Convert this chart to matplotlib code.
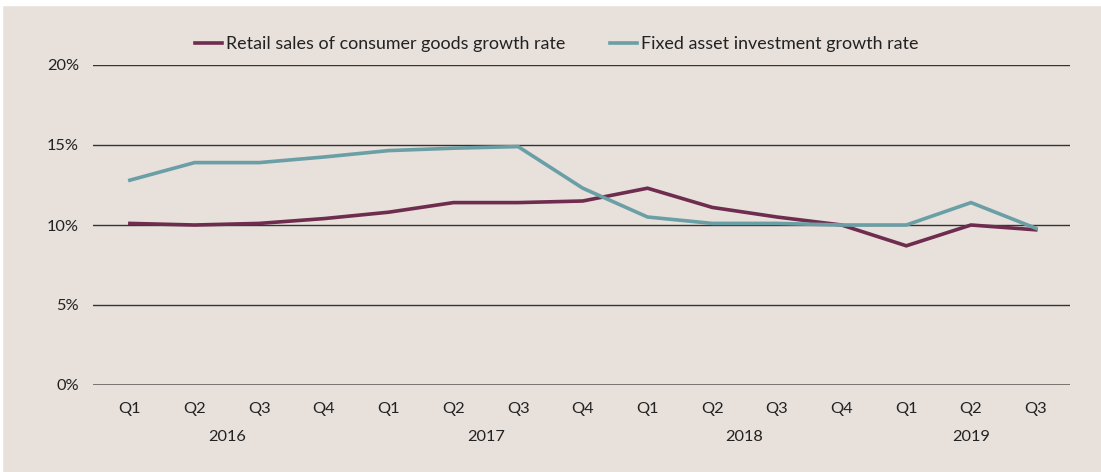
import matplotlib
matplotlib.use("Agg")
import matplotlib.pyplot as plt
from matplotlib.patches import Rectangle
from matplotlib.lines import Line2D

quarters = ["Q1", "Q2", "Q3", "Q4", "Q1", "Q2", "Q3", "Q4", "Q1", "Q2", "Q3", "Q4", "Q1", "Q2", "Q3"]
years = ["2016", "2017", "2018", "2019"]
year_centers = [1.5, 5.5, 9.5, 13.0]
retail = [10.1, 10.0, 10.1, 10.4, 10.8, 11.4, 11.4, 11.5, 12.3, 11.1, 10.5, 10.0, 8.7, 10.0, 9.7]
fixed = [12.8, 13.9, 13.9, 14.25, 14.65, 14.8, 14.9, 12.3, 10.5, 10.1, 10.1, 10.0, 10.0, 11.4, 9.8]
yticks = [0, 5, 10, 15, 20]

BG = "#E7E0DB"
PURPLE = "#6E2C4E"
TEAL = "#6A9FA6"
TXT = "#222222"
plt.rcParams['font.family'] = ['Lato', 'DejaVu Sans']

fig = plt.figure(figsize=(11.01, 4.72), dpi=100)
fig.patch.set_facecolor(BG)
fig.patches.append(Rectangle((0, 1 - 5 / 472), 1, 5 / 472, transform=fig.transFigure, color="white", zorder=0))
fig.patches.append(Rectangle((0, 0), 2 / 1101, 1, transform=fig.transFigure, color="white", zorder=0))

ax = fig.add_axes([93 / 1101, 1 - 385 / 472, (1070 - 93) / 1101, (385 - 65) / 472])
ax.set_facecolor(BG)
x = list(range(len(quarters)))
ax.plot(x, retail, color=PURPLE, lw=2.6, solid_joinstyle="miter", zorder=3)
ax.plot(x, fixed, color=TEAL, lw=2.6, solid_joinstyle="miter", zorder=3)

ax.set_xlim(-0.57, 14.53)
ax.set_ylim(0, 20)
for v in yticks:
    if v == 0:
        ax.axhline(v, color="#6E6A68", lw=2.0, zorder=1)
    else:
        ax.axhline(v, color="#333333", lw=1.0, zorder=1)
ax.set_yticks(yticks)
ax.set_yticklabels([f"{v}%" for v in yticks])
ax.set_xticks(x)
ax.set_xticklabels(quarters)
ax.tick_params(length=0, labelsize=11.8, colors=TXT)
ax.tick_params(axis="x", pad=12)
ax.tick_params(axis="y", pad=10)
for s in ax.spines.values():
    s.set_visible(False)

for yr, c in zip(years, year_centers):
    ax.text(c, -3.25, yr, ha="center", va="center", fontsize=11.8, color=TXT, transform=ax.transData)

handles = [Line2D([0], [0], color=PURPLE, lw=2.6), Line2D([0], [0], color=TEAL, lw=2.6)]
labels = ["Retail sales of consumer goods growth rate", "Fixed asset investment growth rate"]
fig.legend(handles, labels, loc="center", bbox_to_anchor=(557 / 1101, 1 - 44 / 472), ncol=2,
           frameon=False, fontsize=12.9, handlelength=1.5, handletextpad=0.22, columnspacing=2.5,
           labelcolor=TXT)

fig.savefig("out.png", dpi=100, facecolor=BG)
